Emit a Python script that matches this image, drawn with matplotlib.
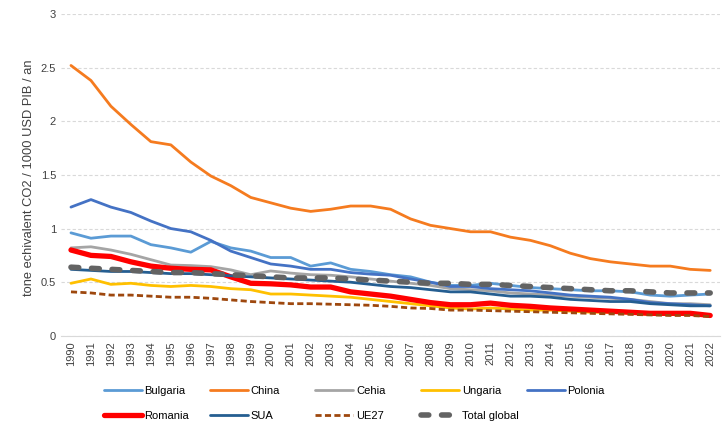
import matplotlib
matplotlib.use("Agg")
import matplotlib.pyplot as plt
from matplotlib.ticker import FuncFormatter

plt.rcParams['font.family'] = ['Liberation Sans', 'DejaVu Sans']

years = [str(y) for y in range(1990, 2023)]

bulgaria = [0.96, 0.91, 0.93, 0.93, 0.85, 0.82, 0.78, 0.88, 0.82, 0.79, 0.73, 0.73, 0.65, 0.68,
            0.62, 0.60, 0.57, 0.55, 0.50, 0.47, 0.47, 0.49, 0.47, 0.45, 0.44, 0.43, 0.42, 0.42,
            0.41, 0.38, 0.37, 0.38, 0.39]
china = [2.52, 2.38, 2.14, 1.97, 1.81, 1.78, 1.62, 1.49, 1.40, 1.29, 1.24, 1.19, 1.16, 1.18,
         1.21, 1.21, 1.18, 1.09, 1.03, 1.00, 0.97, 0.97, 0.92, 0.89, 0.84, 0.77, 0.72, 0.69,
         0.67, 0.65, 0.65, 0.62, 0.61]
cehia = [0.82, 0.83, 0.80, 0.76, 0.71, 0.66, 0.655, 0.645, 0.615, 0.57, 0.605, 0.585, 0.57,
         0.565, 0.55, 0.53, 0.51, 0.49, 0.47, 0.44, 0.43, 0.42, 0.40, 0.39, 0.38, 0.37, 0.36,
         0.35, 0.34, 0.32, 0.30, 0.30, 0.29]
ungaria = [0.49, 0.53, 0.48, 0.49, 0.47, 0.46, 0.47, 0.46, 0.44, 0.43, 0.39, 0.39, 0.38, 0.37,
           0.36, 0.34, 0.32, 0.30, 0.28, 0.26, 0.25, 0.26, 0.25, 0.24, 0.24, 0.23, 0.22, 0.22,
           0.21, 0.20, 0.20, 0.20, 0.19]
polonia = [1.20, 1.27, 1.20, 1.15, 1.07, 1.00, 0.97, 0.89, 0.79, 0.73, 0.67, 0.65, 0.62, 0.62,
           0.59, 0.575, 0.565, 0.53, 0.50, 0.46, 0.46, 0.44, 0.43, 0.42, 0.40, 0.38, 0.37, 0.36,
           0.34, 0.31, 0.30, 0.29, 0.28]
romania = [0.80, 0.75, 0.74, 0.69, 0.65, 0.63, 0.62, 0.615, 0.55, 0.49, 0.485, 0.475, 0.455,
           0.455, 0.41, 0.39, 0.37, 0.34, 0.31, 0.29, 0.29, 0.305, 0.285, 0.275, 0.26, 0.25,
           0.24, 0.23, 0.22, 0.21, 0.21, 0.21, 0.19]
sua = [0.62, 0.61, 0.60, 0.60, 0.59, 0.58, 0.58, 0.57, 0.56, 0.55, 0.54, 0.53, 0.52, 0.51,
       0.50, 0.48, 0.46, 0.45, 0.43, 0.41, 0.41, 0.39, 0.37, 0.37, 0.36, 0.34, 0.33, 0.32,
       0.32, 0.30, 0.29, 0.28, 0.28]
ue27 = [0.41, 0.40, 0.38, 0.38, 0.37, 0.36, 0.36, 0.35, 0.335, 0.32, 0.31, 0.30, 0.30, 0.295,
        0.29, 0.285, 0.275, 0.26, 0.255, 0.24, 0.24, 0.235, 0.23, 0.225, 0.22, 0.215, 0.21,
        0.205, 0.20, 0.195, 0.19, 0.19, 0.18]
total_global = [0.64, 0.63, 0.62, 0.61, 0.60, 0.59, 0.59, 0.58, 0.57, 0.56, 0.55, 0.54, 0.54,
                0.54, 0.53, 0.52, 0.51, 0.50, 0.49, 0.49, 0.48, 0.48, 0.47, 0.46, 0.45, 0.44,
                0.43, 0.42, 0.42, 0.41, 0.40, 0.40, 0.40]

series = [
    ("Bulgaria", bulgaria, "#5B9BD5", 2.0, "-"),
    ("China", china, "#F57B1F", 2.0, "-"),
    ("Cehia", cehia, "#A5A5A5", 2.0, "-"),
    ("Ungaria", ungaria, "#FFC000", 2.0, "-"),
    ("Polonia", polonia, "#4472C4", 2.0, "-"),
    ("Romania", romania, "#FF0000", 3.8, "-"),
    ("SUA", sua, "#255E91", 2.0, "-"),
    ("UE27", ue27, "#9E480E", 2.0, (0, (2.2, 1.2))),
    ("Total global", total_global, "#636363", 4.0, (0, (1.4, 2.3))),
]

fig = plt.figure(figsize=(7.26, 4.23), dpi=100)
ax = fig.add_axes([0.084, 0.206, 0.908, 0.761])

x = list(range(len(years)))
lines = []
for name, vals, col, lw, ls in series:
    ln, = ax.plot(x, vals, color=col, lw=lw, ls=ls, label=name, solid_capstyle='round',
                  dash_capstyle='round' if name == "Total global" else 'butt')
    lines.append(ln)

ax.set_xlim(-0.5, len(years) - 0.5)
ax.set_ylim(0, 3)
ax.set_yticks([0, 0.5, 1, 1.5, 2, 2.5, 3])
ax.yaxis.set_major_formatter(FuncFormatter(lambda v, p: f"{v:g}"))
ax.set_xticks(x)
ax.set_xticklabels(years, rotation=90)
ax.tick_params(axis='both', length=0, labelsize=8, colors='#404040')
ax.tick_params(axis='x', pad=4)
ax.grid(axis='y', color='#D9D9D9', ls=(0, (3, 2)), lw=0.8)
for s in ['left', 'right', 'top']:
    ax.spines[s].set_visible(False)
ax.spines['bottom'].set_color('#D9D9D9')
ax.set_ylabel("tone echivalent CO2 / 1000 USD PIB / an", fontsize=9.3, color='#404040')
ax.yaxis.set_label_coords(-0.040, 0.49)

# legend entries placed on an even grid, 5 per row
for i, ln in enumerate(lines):
    col, row = i % 5, i // 5
    fig.legend([ln], [ln.get_label()], loc='center left',
               bbox_to_anchor=(0.1433 + col * 0.1456, 0.0757 - row * 0.0592),
               frameon=False, fontsize=8, handlelength=3.4, handletextpad=0.25,
               borderpad=0, borderaxespad=0)

fig.savefig("out.png", dpi=100)
